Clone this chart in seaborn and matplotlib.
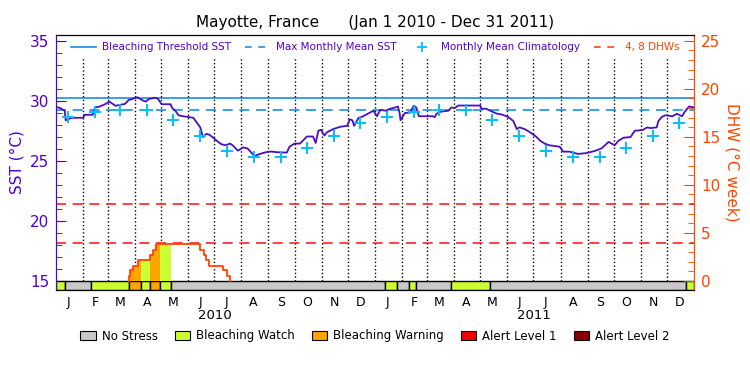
import numpy as np
import pandas as pd
import matplotlib
matplotlib.use("Agg")
import matplotlib.pyplot as plt
import matplotlib.dates as mdates
import matplotlib.transforms as mtransforms
from matplotlib.lines import Line2D
from matplotlib.patches import Patch
from matplotlib.ticker import MultipleLocator
import seaborn as sns

START = pd.Timestamp("2010-01-01")
END = pd.Timestamp("2012-01-01")

# daily SST (days since Jan 1 2010, deg C)
sst_day = [0, 5, 8, 10, 11, 18, 31, 33, 42, 43, 45, 50, 56, 61, 68, 79, 83, 87, 93, 95,
           100, 103, 106, 113, 116, 121, 131, 133, 137, 140, 145, 150, 157, 161, 165, 168,
           172, 175, 179, 184, 189, 194, 199, 202, 208, 214, 219, 224, 227, 230, 236, 243,
           247, 253, 264, 267, 273, 279, 287, 294, 297, 300, 303, 307, 310, 317, 325, 333,
           336, 339, 341, 346, 350, 357, 363, 367, 371, 377, 382, 388, 391, 393, 394, 399,
           405, 409, 412, 415, 431, 433, 435, 439, 443, 449, 452, 456, 460, 485, 487, 492,
           498, 504, 510, 517, 523, 527, 530, 536, 542, 549, 554, 559, 564, 576, 580, 587,
           597, 606, 616, 624, 632, 639, 643, 649, 657, 662, 671, 676, 680, 687, 689, 693,
           697, 705, 710, 716, 719, 724, 730]
sst_val = [29.50, 29.41, 29.27, 29.19, 28.40, 28.60, 28.60, 28.85, 28.85, 29.14, 29.46,
           29.54, 29.73, 29.95, 29.60, 29.76, 30.08, 30.16, 30.32, 30.22, 30.02, 29.95,
           30.16, 30.27, 30.22, 29.73, 29.73, 29.41, 29.14, 28.81, 28.73, 28.68, 28.60,
           28.20, 27.80, 26.99, 27.26, 27.20, 26.99, 26.67, 26.40, 26.31, 26.45, 26.31,
           25.86, 26.13, 26.05, 25.65, 25.38, 25.51, 25.65, 25.78, 25.78, 25.73, 25.70,
           26.19, 26.45, 26.45, 27.04, 27.04, 26.50, 27.52, 27.60, 27.12, 27.40, 27.66,
           27.85, 27.93, 28.47, 28.39, 27.93, 28.60, 28.68, 28.95, 29.19, 28.73, 29.27,
           29.19, 29.35, 29.46, 29.54, 29.00, 28.39, 29.00, 29.03, 29.60, 29.46, 28.73,
           28.73, 28.65, 28.92, 29.09, 29.14, 29.19, 29.46, 29.41, 29.62, 29.62, 29.35,
           29.35, 29.14, 28.95, 28.87, 28.68, 28.33, 27.66, 27.80, 27.66, 27.40, 27.04,
           26.67, 26.45, 26.31, 26.19, 25.78, 25.78, 25.59, 25.65, 25.83, 26.05, 26.59,
           26.31, 26.67, 26.94, 26.99, 27.52, 27.58, 27.80, 27.74, 27.80, 28.33, 28.68,
           28.81, 28.73, 28.93, 28.73, 29.09, 29.54, 29.46]

# monthly mean climatology (Jan..Dec), same for both years
clim_val = [28.68, 29.06, 29.27, 29.27, 28.41, 27.07, 25.83, 25.30, 25.30, 26.10, 27.12, 28.20]
mmm = 29.27
threshold = mmm + 1.0

# degree heating weeks, step changes (days since Jan 1 2010)
dhw_day = [83, 85, 88, 94, 108, 111, 114, 165, 169, 172, 175, 191, 196, 199]
dhw_val = [0.55, 1.1, 1.6, 2.15, 2.7, 3.25, 3.8, 3.25, 2.7, 2.15, 1.6, 1.1, 0.55, 0.0]

# stress level bar: segment start days and level
stress_start = [0, 10, 40, 83, 97, 108, 119, 131, 376, 390, 404, 412, 452, 496, 720]
stress_level = ["watch", "none", "watch", "warning", "watch", "warning", "watch", "none",
                "watch", "none", "watch", "none", "watch", "none", "watch"]

month_letters = list("JFMAMJJASOND")
years = ["2010", "2011"]

stress_colors = {"none": "#c8c8c8", "watch": "#ccff33", "warning": "#ffa500",
                 "alert1": "#f00000", "alert2": "#8b0000"}
purple = "#5000c8"
orange = "#ff4500"
blue = "#1e8ce6"

plt.rcParams["font.family"] = ["DejaVu Sans"]


def to_date(d):
    return START + pd.to_timedelta(d, unit="D")


fig = plt.figure(figsize=(7.5, 3.75), dpi=100)
ax = fig.add_axes([0.0747, 0.2267, 0.8510, 0.68])
ax2 = ax.twinx()

sst = pd.DataFrame({"date": to_date(np.array(sst_day)), "sst": sst_val})
mid_months = pd.date_range(START, periods=24, freq="MS") + pd.Timedelta(days=14)
clim = pd.DataFrame({"date": mid_months, "sst": clim_val * 2})

ax.axhline(threshold, color=blue, lw=1.2)
ax.axhline(mmm, color=blue, lw=1.2, ls=(0, (6, 4)))

# month separators (stop below the legend)
month_starts = pd.date_range(START, END, freq="MS")
ax.vlines(month_starts[1:-1], 15, 33.6, colors="black", linestyles=":", lw=1)

sns.lineplot(data=sst, x="date", y="sst", color="#4b0fc0", lw=1.3, ax=ax, zorder=4)
sns.scatterplot(data=clim, x="date", y="sst", marker="+", s=70, color="#00c0ff",
                linewidth=1.4, ax=ax, zorder=5)

# stress bar below 15 C
ends = stress_start[1:] + [730]
for s, e, lev in zip(stress_start, ends, stress_level):
    x0 = mdates.date2num(to_date(s))
    x1 = mdates.date2num(to_date(e))
    ax.broken_barh([(x0, x1 - x0)], (14.25, 0.75), facecolors=stress_colors[lev],
                   edgecolor="black", lw=1, zorder=3)


# DHW fill coloured by stress level, then the DHW line
def dhw_at(d):
    v = 0.0
    for dd, vv in zip(dhw_day, dhw_val):
        if d >= dd:
            v = vv
    return v


for s, e, lev in zip(stress_start, ends, stress_level):
    if lev == "none":
        continue
    pts = [s] + [d for d in dhw_day if s < d < e] + [e]
    ys = [dhw_at(d) for d in pts]
    if max(ys) <= 0:
        continue
    ax2.fill_between(to_date(np.array(pts)), 0, ys, step="post",
                     color=stress_colors[lev], lw=0, zorder=2)

ax2.plot(to_date(np.array([dhw_day[0]] + dhw_day)), [0.0] + dhw_val,
         drawstyle="steps-post", color=orange, lw=1.3, zorder=3)
ax2.axhline(4, color="#ff2020", lw=1.2, ls=(0, (6, 4)))
ax2.axhline(8, color="#ff2020", lw=1.2, ls=(0, (6, 4)))

# axes
ax.set_xlim(START, END)
ax.set_ylim(14.25, 35.5)
ax2.set_ylim(-0.94, 25.6)
ax.set_xlabel("")
ax.set_ylabel("SST (°C)", color=purple, fontsize=11, labelpad=4)
ax2.set_ylabel("DHW (°C week)", color=orange, fontsize=11, rotation=270, labelpad=14)

ax.yaxis.set_minor_locator(MultipleLocator(1))
ax.set_yticks([15, 20, 25, 30, 35])
ax.tick_params(axis="y", which="major", direction="in", length=7, colors=purple,
               labelsize=11, pad=5)
ax.tick_params(axis="y", which="minor", direction="in", length=4, colors=purple)
ax2.yaxis.set_minor_locator(MultipleLocator(1))
ax2.set_yticks([0, 5, 10, 15, 20, 25])
ax2.tick_params(axis="y", which="major", direction="in", length=7, colors=orange,
                labelsize=11, pad=5)
ax2.tick_params(axis="y", which="minor", direction="in", length=4, colors=orange)

ax.set_xticks(mid_months, month_letters * 2)
ax.xaxis.set_minor_locator(mdates.MonthLocator())
ax.tick_params(axis="x", which="both", length=0, labelsize=9, pad=4)

for a in (ax, ax2):
    a.spines["top"].set_color("black")
    a.spines["bottom"].set_color("black")
    a.spines["left"].set_color(purple)
    a.spines["right"].set_color(orange)

trans = mtransforms.blended_transform_factory(ax.transData, ax.transAxes)
for y in years:
    ax.text(pd.Timestamp(f"{y}-07-02"), -0.1, y, transform=trans, ha="center",
            va="center", fontsize=9.5)

ax.set_title("Mayotte, France      (Jan 1 2010 - Dec 31 2011)", fontsize=11, pad=6)

# top legend
handles = [Line2D([], [], color=blue, lw=1.2),
           Line2D([], [], color=blue, lw=1.2, ls=(0, (4, 4))),
           Line2D([], [], color="#00c0ff", marker="+", ls="none", markersize=7, mew=1.3),
           Line2D([], [], color=orange, lw=1.2, ls=(0, (4, 4)))]
labels = ["Bleaching Threshold SST", "Max Monthly Mean SST", "Monthly Mean Climatology",
          "4, 8 DHWs"]
leg = ax2.legend(handles, labels, loc="upper center", bbox_to_anchor=(0.5, 1.0), ncol=4,
                 frameon=False, fontsize=7.5, handlelength=2.4, columnspacing=1.3,
                 handletextpad=0.6, borderaxespad=0.3)
for t, c in zip(leg.get_texts(), [purple, purple, purple, orange]):
    t.set_color(c)

# bottom stress legend
patches = [Patch(facecolor=stress_colors[k], edgecolor="black", lw=0.8)
           for k in ["none", "watch", "warning", "alert1", "alert2"]]
fig.legend(patches, ["No Stress", "Bleaching Watch", "Bleaching Warning", "Alert Level 1",
                     "Alert Level 2"], loc="center", bbox_to_anchor=(0.5, 0.104), ncol=5,
           frameon=False, fontsize=8.5, handlelength=1.3, handleheight=0.9,
           columnspacing=1.45, handletextpad=0.5)

fig.savefig("out.png", dpi=100)
